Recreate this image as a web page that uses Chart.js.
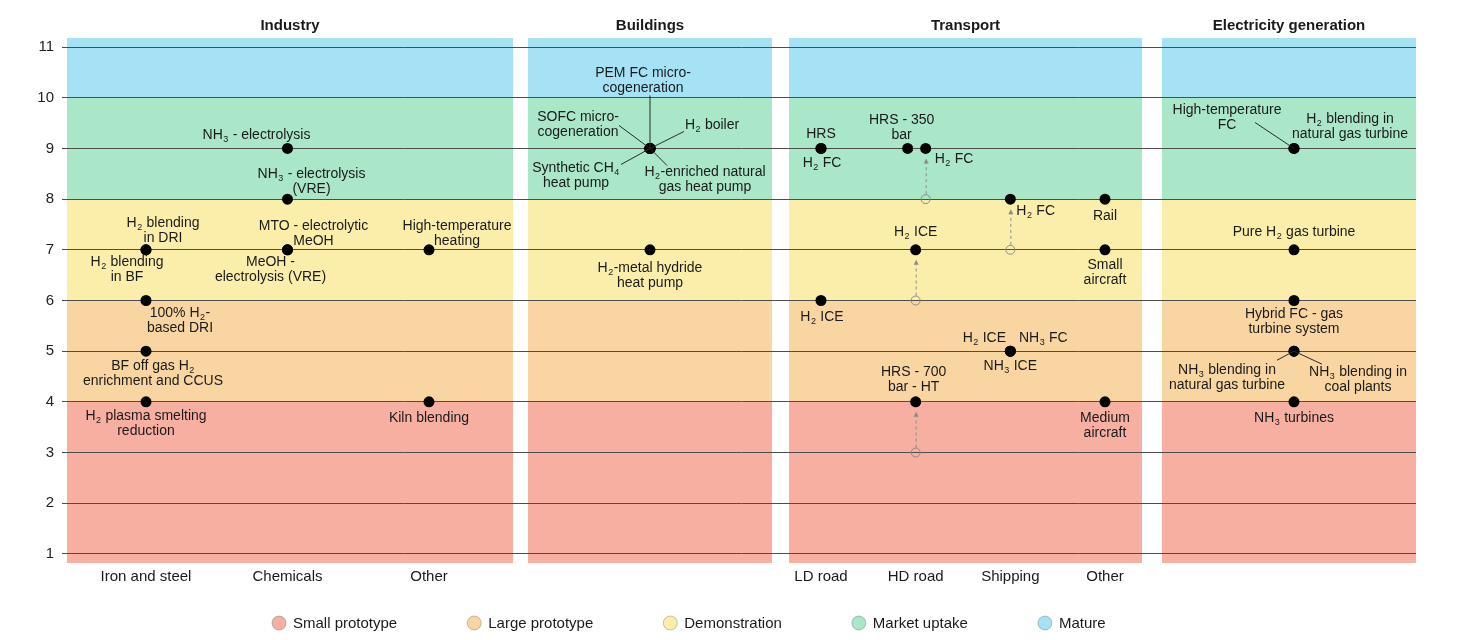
<!DOCTYPE html>
<html><head><meta charset="utf-8">
<script src="https://cdn.jsdelivr.net/npm/chart.js@4.4.1/dist/chart.umd.min.js"></script>
<style>html,body{margin:0;padding:0;background:#fff}#wrap{width:1472px;height:640px;position:relative}</style>
</head><body><div id="wrap"><canvas id="c"></canvas></div>
<script>
// ---------------- DATA ----------------
const panelNames = ["Industry","Buildings","Transport","Electricity generation"];
const industryCategories = ["Iron and steel","Chemicals","Other"];
const buildingsCategories = [""];
const transportCategories = ["LD road","HD road","Shipping","Other"];
const electricityCategories = [""];
const trlTicks = [1,2,3,4,5,6,7,8,9,10,11];
const stageNames = ["Small prototype","Large prototype","Demonstration","Market uptake","Mature"];
const stageBreaks = [4,6,8,10];

// [category, technology, TRL]   ("_2" = subscript 2)
const industryTech = [
  ["Iron and steel","H_2 blending\nin DRI",7],
  ["Iron and steel","H_2 blending\nin BF",7],
  ["Iron and steel","100% H_2-\nbased DRI",6],
  ["Iron and steel","BF off gas H_2\nenrichment and CCUS",5],
  ["Iron and steel","H_2 plasma smelting\nreduction",4],
  ["Chemicals","NH_3 - electrolysis",9],
  ["Chemicals","NH_3 - electrolysis\n(VRE)",8],
  ["Chemicals","MTO - electrolytic\nMeOH",7],
  ["Chemicals","MeOH -\nelectrolysis (VRE)",7],
  ["Other","High-temperature\nheating",7],
  ["Other","Kiln blending",4]
];
const buildingsTech = [
  ["","PEM FC micro-\ncogeneration",9],
  ["","SOFC micro-\ncogeneration",9],
  ["","H_2 boiler",9],
  ["","Synthetic CH_4\nheat pump",9],
  ["","H_2-enriched natural\ngas heat pump",9],
  ["","H_2-metal hydride\nheat pump",7]
];
const transportTech = [
  ["LD road","HRS",9],
  ["LD road","H_2 FC",9],
  ["LD road","H_2 ICE",6],
  ["HD road","HRS - 350\nbar",9],
  ["HD road","H_2 FC",9],
  ["HD road","H_2 ICE",7],
  ["HD road","HRS - 700\nbar - HT",4],
  ["Shipping","H_2 FC",8],
  ["Shipping","H_2 ICE",5],
  ["Shipping","NH_3 FC",5],
  ["Shipping","NH_3 ICE",5],
  ["Other","Rail",8],
  ["Other","Small\naircraft",7],
  ["Other","Medium\naircraft",4]
];
// earlier TRL of transport technologies: [category, technology, previous TRL]
const transportPrevious = [
  ["HD road","H_2 FC",8],
  ["HD road","H_2 ICE",6],
  ["HD road","HRS - 700\nbar - HT",3],
  ["Shipping","H_2 FC",7]
];
const electricityTech = [
  ["","High-temperature\nFC",9],
  ["","H_2 blending in\nnatural gas turbine",9],
  ["","Pure H_2 gas turbine",7],
  ["","Hybrid FC - gas\nturbine system",6],
  ["","NH_3 blending in\nnatural gas turbine",5],
  ["","NH_3 blending in\ncoal plants",5],
  ["","NH_3 turbines",4]
];

// ---------------- LAYOUT / STYLE ----------------
const FONT = '"Liberation Sans", Arial, Helvetica, sans-serif';
const STAGE_COLORS = ["#f7afa2","#f9d6a1","#fbeeab","#a9e7c8","#a6e2f6"];
const PANEL_BOX = [[0,446],[461,705],[722,1075],[1095,1349]];
const CAT_PAD = [[79,84],[0,0],[32,37],[10,0]];
const LH = 15;
const LABEL_LAYOUT = [
  {
    "Iron and steel|H_2 blending\nin DRI": {dx:17, dy:-27},
    "Iron and steel|H_2 blending\nin BF": {dx:-19, dy:12},
    "Iron and steel|100% H_2-\nbased DRI": {dx:34, dy:13},
    "Iron and steel|BF off gas H_2\nenrichment and CCUS": {dx:7, dy:15},
    "Iron and steel|H_2 plasma smelting\nreduction": {dx:0, dy:14},
    "Chemicals|NH_3 - electrolysis": {dx:-31, dy:-13},
    "Chemicals|NH_3 - electrolysis\n(VRE)": {dx:24, dy:-25},
    "Chemicals|MTO - electrolytic\nMeOH": {dx:26, dy:-24},
    "Chemicals|MeOH -\nelectrolysis (VRE)": {dx:-17, dy:12},
    "Other|High-temperature\nheating": {dx:28, dy:-24},
    "Other|Kiln blending": {dx:0, dy:16}
  },
  {
    "|PEM FC micro-\ncogeneration": {dx:-7, dy:-75, leader:[0,-53]},
    "|SOFC micro-\ncogeneration": {dx:-72, dy:-31, leader:[-31,-23]},
    "|H_2 boiler": {dx:62, dy:-23, leader:[34,-17]},
    "|Synthetic CH_4\nheat pump": {dx:-74, dy:20, leader:[-29,16]},
    "|H_2-enriched natural\ngas heat pump": {dx:55, dy:24, leader:[17,17]},
    "|H_2-metal hydride\nheat pump": {dx:0, dy:18}
  },
  {
    "LD road|HRS": {dx:0, dy:-14},
    "LD road|H_2 FC": {dx:1, dy:15},
    "LD road|H_2 ICE": {dx:1, dy:17},
    "HD road|HRS - 350\nbar": {nudge:-8, dx:-6, dy:-28},
    "HD road|H_2 FC": {nudge:10, dx:9, dy:11, align:'left'},
    "HD road|H_2 ICE": {dx:0, dy:-18},
    "HD road|HRS - 700\nbar - HT": {dx:-2, dy:-30},
    "Shipping|H_2 FC": {dx:6, dy:12, align:'left'},
    "Shipping|H_2 ICE": {dx:-26, dy:-13},
    "Shipping|NH_3 FC": {dx:33, dy:-13},
    "Shipping|NH_3 ICE": {dx:0, dy:15},
    "Other|Rail": {dx:0, dy:17},
    "Other|Small\naircraft": {dx:0, dy:15},
    "Other|Medium\naircraft": {dx:0, dy:16}
  },
  {
    "|High-temperature\nFC": {dx:-67, dy:-38, leader:[-39,-26]},
    "|H_2 blending in\nnatural gas turbine": {dx:56, dy:-29},
    "|Pure H_2 gas turbine": {dx:0, dy:-18},
    "|Hybrid FC - gas\nturbine system": {dx:0, dy:14},
    "|NH_3 blending in\nnatural gas turbine": {dx:-67, dy:19, leader:[-17,9]},
    "|NH_3 blending in\ncoal plants": {dx:64, dy:21, leader:[28,13]},
    "|NH_3 turbines": {dx:0, dy:16}
  }
];

const panelCats = [industryCategories, buildingsCategories, transportCategories, electricityCategories];
const panelTech = [industryTech, buildingsTech, transportTech, electricityTech];

function catCenter(p, cat){
  const cats = panelCats[p];
  const ci = cats.indexOf(cat);
  const a = PANEL_BOX[p][0] + CAT_PAD[p][0], b = PANEL_BOX[p][1] - CAT_PAD[p][1];
  if (cats.length === 1) return (a + b) / 2;
  return a + ci * (b - a) / (cats.length - 1);
}
function techLayout(p, cat, name){ return LABEL_LAYOUT[p][cat + "|" + name] || {dx:0, dy:16}; }
function techX(p, cat, name){ return catCenter(p, cat) + (techLayout(p, cat, name).nudge || 0); }

// build points
const techPoints = [];
panelTech.forEach((list, p) => list.forEach(([cat, name, trl]) => {
  techPoints.push({x: techX(p, cat, name), y: trl, p, cat, name});
}));
const prevPoints = transportPrevious.map(([cat, name, trl]) => ({x: techX(2, cat, name), y: trl, cat, name}));

// ---------------- RICH TEXT ----------------
function parseRich(s){
  const segs = []; let buf = '';
  for (let i = 0; i < s.length; i++){
    if (s[i] === '_' && i + 1 < s.length){
      if (buf){ segs.push({t:buf, sub:false}); buf=''; }
      segs.push({t:s[i+1], sub:true}); i++;
    } else buf += s[i];
  }
  if (buf) segs.push({t:buf, sub:false});
  return segs;
}
function drawRich(ctx, s, x, y, align, size, weight){
  const segs = parseRich(s);
  const main = (weight||'') + ' ' + size + 'px ' + FONT;
  const subf = Math.round(size*0.64) + 'px ' + FONT;
  let w = 0;
  segs.forEach(g => { ctx.font = g.sub ? subf : main; g.w = ctx.measureText(g.t).width + (g.sub?1:0); w += g.w; });
  let cx = align === 'left' ? x : x - w/2;
  ctx.textBaseline = 'middle'; ctx.textAlign = 'left';
  segs.forEach(g => { ctx.font = g.sub ? subf : main; ctx.fillText(g.t, cx + (g.sub?0.5:0), g.sub ? y + size*0.32 : y); cx += g.w; });
  return w;
}

// ---------------- PLUGIN ----------------
const trlPlugin = {
  id: 'trl',
  beforeDraw(chart){
    const {ctx, chartArea, scales:{x, y}} = chart;
    ctx.save();
    PANEL_BOX.forEach(([a, b]) => {
      const x0 = x.getPixelForValue(a), x1 = x.getPixelForValue(b);
      for (let s = 0; s < STAGE_COLORS.length; s++){
        const lo = s === 0 ? y.min : stageBreaks[s-1];
        const hi = s === STAGE_COLORS.length-1 ? y.max : stageBreaks[s];
        const yt = y.getPixelForValue(hi), yb = y.getPixelForValue(lo);
        ctx.fillStyle = STAGE_COLORS[s];
        ctx.fillRect(x0, yt, x1 - x0, yb - yt);
      }
    });
    ctx.restore();
  },
  afterDatasetsDraw(chart){
    const {ctx, scales:{x, y}} = chart;
    ctx.save();
    // improvement arrows
    prevPoints.forEach(pp => {
      const tgt = techPoints.find(t => t.p === 2 && t.cat === pp.cat && t.name === pp.name);
      const px = x.getPixelForValue(pp.x);
      const yf = y.getPixelForValue(pp.y), yt = y.getPixelForValue(tgt.y);
      ctx.strokeStyle = '#8c8c8c'; ctx.lineWidth = 1; ctx.setLineDash([3,3]);
      ctx.beginPath(); ctx.moveTo(px + 0.5, yf - 5); ctx.lineTo(px + 0.5, yt + 15); ctx.stroke();
      ctx.setLineDash([]);
      ctx.fillStyle = '#8c8c8c';
      ctx.beginPath(); ctx.moveTo(px + 0.5, yt + 10); ctx.lineTo(px + 3, yt + 15); ctx.lineTo(px - 2, yt + 15); ctx.closePath(); ctx.fill();
    });
    // leader lines + labels
    ctx.fillStyle = '#1a1a1a';
    techPoints.forEach(t => {
      const L = techLayout(t.p, t.cat, t.name);
      const px = x.getPixelForValue(t.x), py = y.getPixelForValue(t.y);
      if (L.leader){
        ctx.strokeStyle = '#2a2a2a'; ctx.lineWidth = 1;
        ctx.beginPath(); ctx.moveTo(px, py); ctx.lineTo(px + L.leader[0], py + L.leader[1]); ctx.stroke();
      }
      ctx.fillStyle = '#1a1a1a';
      t.name.split('\n').forEach((line, i) => {
        drawRich(ctx, line, px + L.dx, py + L.dy + i*LH, L.align || 'center', 14);
      });
    });
    ctx.restore();
  },
  afterDraw(chart){
    const {ctx, scales:{x}} = chart;
    ctx.save();
    ctx.fillStyle = '#1a1a1a';
    ctx.textAlign = 'center'; ctx.textBaseline = 'middle';
    PANEL_BOX.forEach(([a, b], p) => {
      ctx.font = 'bold 15px ' + FONT;
      ctx.fillText(panelNames[p], (x.getPixelForValue(a) + x.getPixelForValue(b))/2, 26);
      ctx.font = '15px ' + FONT;
      panelCats[p].forEach(cat => { if (cat) ctx.fillText(cat, x.getPixelForValue(catCenter(p, cat)), 577); });
    });
    // legend
    let lx = 272; const ly = 623;
    ctx.font = '15px ' + FONT; ctx.textAlign = 'left';
    stageNames.forEach((nm, s) => {
      ctx.beginPath(); ctx.arc(lx + 7, ly, 7, 0, Math.PI*2);
      ctx.fillStyle = STAGE_COLORS[s]; ctx.fill();
      ctx.strokeStyle = 'rgba(0,0,0,0.22)'; ctx.lineWidth = 1; ctx.stroke();
      ctx.fillStyle = '#1a1a1a';
      ctx.fillText(nm, lx + 21, ly + 1);
      lx += 21 + ctx.measureText(nm).width + 70;
    });
    ctx.restore();
  }
};

Chart.defaults.font.family = FONT;
new Chart(document.getElementById('c'), {
  type: 'scatter',
  data: {
    datasets: [
      { label: 'Technologies', data: techPoints, pointRadius: 5.5, pointBackgroundColor: '#000', pointBorderWidth: 0, pointHoverRadius: 5.5 },
      { label: 'Previous TRL', data: prevPoints, pointRadius: 4.5, pointBackgroundColor: 'rgba(0,0,0,0)', pointBorderColor: '#8c8c8c', pointBorderWidth: 1 }
    ]
  },
  options: {
    responsive: true, maintainAspectRatio: false, animation: false, events: [],
    layout: { padding: { top: 38, bottom: 77, left: 0, right: 56 } },
    plugins: { legend: { display: false }, tooltip: { enabled: false } },
    scales: {
      x: { type: 'linear', display: false, min: 0, max: PANEL_BOX[3][1] },
      y: {
        type: 'linear', min: 0.82, max: 11.18,
        afterBuildTicks: ax => { ax.ticks = trlTicks.map(v => ({value: v})); },
        afterFit: ax => { ax.width = 67; },
        ticks: { font: { size: 15 }, color: '#222', padding: 8 },
        grid: { color: '#4d4d4d', lineWidth: 1, tickLength: 5, drawTicks: true },
        border: { display: false }
      }
    }
  },
  plugins: [trlPlugin]
});
</script>
</body></html>
